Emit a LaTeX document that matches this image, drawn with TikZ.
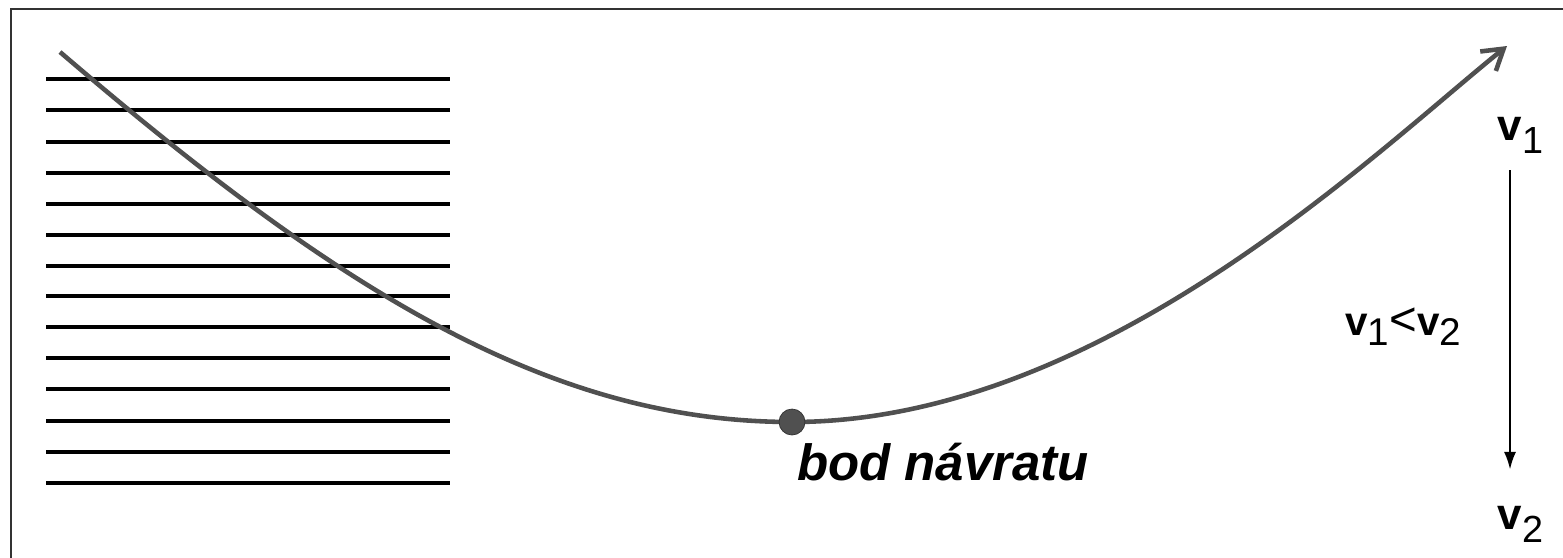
\documentclass[tikz,border=0pt]{standalone}
\usepackage{fontspec}
\setmainfont{Liberation Sans}
\usetikzlibrary{positioning,arrows.meta}
\definecolor{trackgray}{HTML}{505050}
\definecolor{framegray}{HTML}{333333}
\newcommand{\velo}[1]{\textbf{v}\raisebox{-5.7pt}{\fontsize{22}{22}\selectfont #1}}
\newcommand{\velolap}[1]{\textbf{v}\rlap{\raisebox{-7.4pt}{\fontsize{21.5}{22}\selectfont #1}}}

\begin{document}
\begin{tikzpicture}[x=0.02cm, y=-0.02cm,
    layer/.style={line width=2.1pt},
    track/.style={draw=trackgray, line width=2.6pt, -{Straight Barb[length=4mm,width=5mm]}},
    lbl/.style={font=\fontsize{25}{30}\selectfont, inner sep=0pt}]
    \useasboundingbox (0,0) rectangle (1563,558);
    \draw[framegray, line width=0.6pt] (11,558) -- (11,9) -- (1563,9);
    % layers
    \draw[layer] (46,79) -- (450,79);
    \draw[layer] (46,110) -- (450,110);
    \draw[layer] (46,142) -- (450,142);
    \draw[layer] (46,173) -- (450,173);
    \draw[layer] (46,204) -- (450,204);
    \draw[layer] (46,235) -- (450,235);
    \draw[layer] (46,266) -- (450,266);
    \draw[layer] (46,296) -- (450,296);
    \draw[layer] (46,327) -- (450,327);
    \draw[layer] (46,358) -- (450,358);
    \draw[layer] (46,389) -- (450,389);
    \draw[layer] (46,421) -- (450,421);
    \draw[layer] (46,452) -- (450,452);
    \draw[layer] (46,483) -- (450,483);
    % trajectory
    \coordinate (entry) at (60,52);
    \coordinate (bottom) at (792,422);
    \coordinate (exit) at (1507,46);
    \draw[track] (entry) .. controls (340,292) and (550,422) .. (bottom)
        .. controls (1100,422) and (1375,152) .. (exit);
    \node[circle, fill=trackgray, draw=framegray, line width=0.4pt, minimum size=0.52cm, inner sep=0pt] (turn) at (bottom) {};
    \node[anchor=base west, inner sep=0pt, font=\fontsize{29}{34}\selectfont\bfseries\itshape] (turnlbl) at (797,480) {bod návratu};
    % velocities
    \node[lbl, anchor=base] (v1) at (1510,140) {\velolap{1}};
    \node[lbl, anchor=base] (v2) at (1510,529) {\velolap{2}};
    \node[lbl, font=\fontsize{23}{28}\selectfont, anchor=base west] (ineq) at (1345,335) {\velo{1}{\fontsize{27}{28}\selectfont<}\velo{2}};
    \draw[line width=1.1pt, -{Latex[length=3.5mm,width=2.4mm]}, shorten <=0.34cm, shorten >=0.72cm] (v1.south) -- (v2.north);
\end{tikzpicture}
\end{document}
